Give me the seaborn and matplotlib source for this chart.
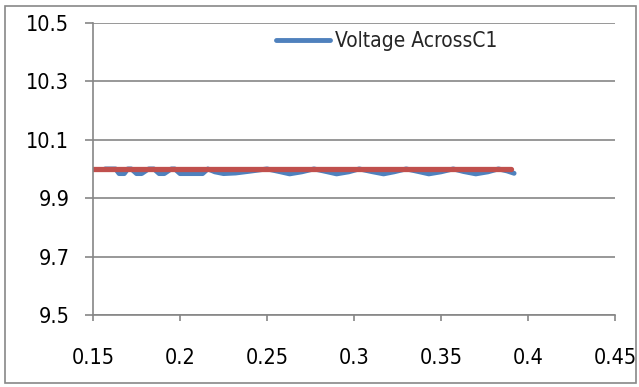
import pandas as pd
import seaborn as sns
import matplotlib.pyplot as plt

sns.set_style("white")
plt.rcParams["font.family"] = ["DejaVu Sans"]
plt.rcParams["font.stretch"] = "condensed"

# Data --------------------------------------------------------------------------
time = [0.157, 0.160, 0.163, 0.165, 0.168, 0.170, 0.172, 0.175, 0.178, 0.182,
        0.185, 0.188, 0.191, 0.195, 0.197, 0.200, 0.205, 0.210, 0.213, 0.216,
        0.220, 0.225, 0.232, 0.240, 0.250, 0.257, 0.263, 0.270, 0.277, 0.284,
        0.290, 0.297, 0.303, 0.310, 0.317, 0.323, 0.330, 0.337, 0.343, 0.350,
        0.357, 0.363, 0.370, 0.377, 0.383, 0.388, 0.392]
vC1 = [10.000, 10.000, 10.000, 9.984, 9.984, 10.000, 10.000, 9.984, 9.984, 10.000,
       10.000, 9.984, 9.984, 10.000, 10.000, 9.984, 9.984, 9.984, 9.984, 10.000,
       9.990, 9.984, 9.986, 9.992, 10.000, 9.991, 9.983, 9.990, 10.000, 9.991,
       9.983, 9.990, 10.000, 9.991, 9.983, 9.990, 10.000, 9.991, 9.983, 9.990,
       10.000, 9.991, 9.983, 9.990, 10.000, 9.993, 9.985]
refT = [0.150, 0.390]
refV = [10.0, 10.0]

df = pd.DataFrame({"t": time, "v": vC1})
ref = pd.DataFrame({"t": refT, "v": refV})

# Plot ------------------------------------------------------------------------
fig = plt.figure(figsize=(6.39, 3.87), dpi=100)
ax = fig.add_axes([0.1455, 0.186, 0.817, 0.755])
sns.lineplot(data=df, x="t", y="v", ax=ax, color="#4F81BD", lw=3.5,
             label="Voltage AcrossC1")
sns.lineplot(data=ref, x="t", y="v", ax=ax, color="#C0504D", lw=3.8,
             label="_ref")

ax.set_xlim(0.15, 0.45)
ax.set_ylim(9.5, 10.5)
ax.set_xticks([0.15, 0.2, 0.25, 0.3, 0.35, 0.4, 0.45])
ax.set_xticklabels(["0.15", "0.2", "0.25", "0.3", "0.35", "0.4", "0.45"])
ax.set_yticks([9.5, 9.7, 9.9, 10.1, 10.3, 10.5])
ax.set_yticklabels(["9.5", "9.7", "9.9", "10.1", "10.3", "10.5"])
ax.set_xlabel("")
ax.set_ylabel("")
ax.grid(axis="y", color="#868686", lw=1.2)
ax.set_axisbelow(True)
for s in ["top", "right"]:
    ax.spines[s].set_visible(False)
for s in ["left", "bottom"]:
    ax.spines[s].set_color("#868686")
    ax.spines[s].set_linewidth(1.2)
ax.tick_params(axis="y", left=True, length=6, width=1.2, color="#868686",
               pad=11, labelsize=15.5, labelcolor="#000000")
ax.tick_params(axis="x", bottom=True, length=4, width=1.2, color="#868686",
               pad=20, labelsize=15.5, labelcolor="#000000")

leg = ax.legend(loc="upper left", bbox_to_anchor=(0.315, 1.035), frameon=False,
                fontsize=15, handlelength=2.6, handletextpad=0.2)

# Outer chart border
fig.patches.append(plt.Rectangle((0.008, 0.01), 0.987, 0.975, transform=fig.transFigure,
                                 fill=False, edgecolor="#888888", lw=1.2))

fig.savefig("out.png", dpi=100)
